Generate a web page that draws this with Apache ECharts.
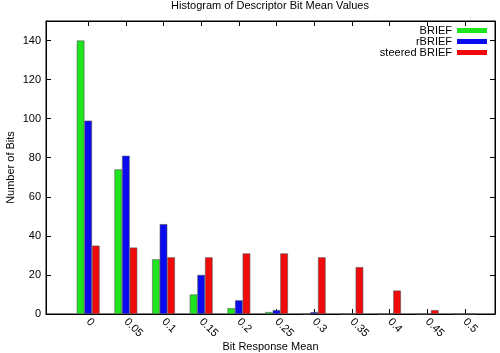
<!DOCTYPE html>
<html>
<head>
<meta charset="utf-8">
<script src="https://cdn.jsdelivr.net/npm/echarts@6/dist/echarts.min.js"></script>
<style>
  html, body { margin: 0; padding: 0; background: #fff; }
  #chart { width: 500px; height: 353px; }
</style>
</head>
<body>
<div id="chart"></div>
<script>
// bin centres along the x axis
var bins = [0, 0.05, 0.1, 0.15, 0.2, 0.25, 0.3, 0.35, 0.4, 0.45, 0.5];
// counts per bin (256 bits each)
var briefCounts   = [140, 74, 28, 10, 3, 1, 0, 0, 0, 0, 0];
var rbriefCounts  = [99, 81, 46, 20, 7, 2, 1, 0, 0, 0, 0];
var steeredCounts = [35, 34, 29, 29, 31, 31, 29, 24, 12, 2, 0];
var yTicks = [0, 20, 40, 60, 80, 100, 120, 140];

function pairs(vals) {
    return bins.map(function (b, i) { return [b, vals[i]]; });
}

var font = 'Liberation Sans, Arial, sans-serif';
var chart = echarts.init(document.getElementById('chart'));

var barStyle = function (color) {
    return { color: color, borderColor: '#555', borderWidth: 0.6 };
};

var option = {
    animation: false,
    backgroundColor: '#fff',
    title: {
        text: 'Histogram of Descriptor Bit Mean Values',
        left: 270, top: 0, textAlign: 'center', padding: 0,
        textStyle: { fontFamily: font, fontSize: 11, fontWeight: 'normal', color: '#000' }
    },
    legend: {
        orient: 'vertical', right: 13, top: 25, align: 'right', padding: 0,
        itemWidth: 30, itemHeight: 5, itemGap: 0,
        icon: 'rect',
        itemStyle: { borderWidth: 0 },
        textStyle: { fontFamily: font, fontSize: 11, color: '#000', lineHeight: 10 },
        data: ['BRIEF', 'rBRIEF', 'steered BRIEF']
    },
    grid: {
        left: 46, right: 5, top: 21, bottom: 39,
        outerBoundsMode: 'none', containLabel: false,
        show: true, borderColor: '#000', borderWidth: 1
    },
    xAxis: [{
        type: 'value', min: -0.056, max: 0.54,
        name: 'Bit Response Mean', nameLocation: 'middle', nameGap: 27, nameMoveOverlap: false,
        nameTextStyle: { fontFamily: font, fontSize: 11, color: '#000' },
        splitLine: { show: false },
        axisLine: { show: true, onZero: false, lineStyle: { color: '#000' } },
        axisTick: { show: true, inside: true, length: 5, customValues: bins, lineStyle: { color: '#000' } },
        axisLabel: {
            customValues: bins, rotate: -45, margin: 6,
            fontFamily: font, fontSize: 11, color: '#000',
            formatter: function (v) { return String(+v.toFixed(2)); }
        }
    }, {
        type: 'value', position: 'top', min: -0.056, max: 0.54,
        splitLine: { show: false },
        axisLine: { show: true, onZero: false, lineStyle: { color: '#000' } },
        axisTick: { show: true, inside: true, length: 5, customValues: bins, lineStyle: { color: '#000' } },
        axisLabel: { show: false }
    }],
    yAxis: [{
        type: 'value', min: 0, max: 150, position: 'left',
        name: 'Number of Bits', nameLocation: 'middle', nameGap: 30, nameRotate: 90, nameMoveOverlap: false,
        nameTextStyle: { fontFamily: font, fontSize: 11, color: '#000' },
        splitLine: { show: false },
        axisLine: { show: true, onZero: false, lineStyle: { color: '#000' } },
        axisTick: { show: true, inside: true, length: 5, customValues: yTicks, lineStyle: { color: '#000' } },
        axisLabel: { customValues: yTicks, margin: 5, fontFamily: font, fontSize: 11, color: '#000' }
    }, {
        type: 'value', position: 'right', min: 0, max: 150,
        splitLine: { show: false },
        axisLine: { show: true, onZero: false, lineStyle: { color: '#000' } },
        axisTick: { show: true, inside: true, length: 5, customValues: yTicks, lineStyle: { color: '#000' } },
        axisLabel: { show: false }
    }],
    series: [
        { name: 'BRIEF', type: 'bar', barWidth: 7.6, barGap: '0%', itemStyle: barStyle('#1ee61e'), data: pairs(briefCounts) },
        { name: 'rBRIEF', type: 'bar', barWidth: 7.6, barGap: '0%', itemStyle: barStyle('#0a0af0'), data: pairs(rbriefCounts) },
        { name: 'steered BRIEF', type: 'bar', barWidth: 7.6, barGap: '0%', itemStyle: barStyle('#f00a0a'), data: pairs(steeredCounts) }
    ]
};

chart.setOption(option);
</script>
</body>
</html>
